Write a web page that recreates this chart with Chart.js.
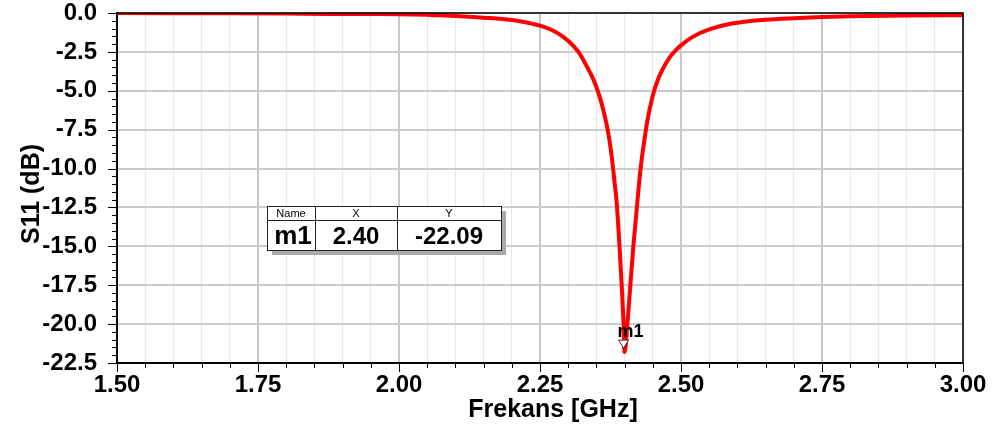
<!DOCTYPE html>
<html><head><meta charset="utf-8">
<script src="https://cdn.jsdelivr.net/npm/chart.js@4.4.1/dist/chart.umd.min.js"></script>
<style>html,body{margin:0;padding:0;background:#fff;}canvas{display:block}</style>
</head><body>
<canvas id="c" width="995" height="428"></canvas>
<script>
// ---- data ----
const freqGHz = [1.50, 1.60, 1.70, 1.80, 1.87, 1.95, 2.00, 2.05, 2.07, 2.10, 2.15, 2.20, 2.225, 2.25, 2.27, 2.29, 2.31, 2.32, 2.333, 2.345, 2.355, 2.362, 2.371, 2.377, 2.382, 2.386, 2.391, 2.395, 2.398, 2.40, 2.4055, 2.41, 2.4155, 2.42, 2.425, 2.43, 2.435, 2.44, 2.45, 2.46, 2.47, 2.48, 2.49, 2.50, 2.52, 2.55, 2.59, 2.65, 2.70, 2.75, 2.80, 2.90, 3.00];
const s11dB   = [0.00, -0.01, -0.02, -0.04, -0.06, -0.07, -0.08, -0.12, -0.15, -0.19, -0.30, -0.45, -0.60, -0.81, -1.08, -1.50, -2.14, -2.60, -3.43, -4.30, -5.30, -6.20, -7.70, -9.20, -10.8, -12.2, -15.0, -17.6, -19.8, -21.8, -19.75, -17.6, -15.0, -13.2, -11.2, -9.5, -8.2, -7.0, -5.3, -4.2, -3.45, -2.85, -2.42, -2.08, -1.55, -1.06, -0.68, -0.43, -0.33, -0.26, -0.21, -0.16, -0.14];
const xTickLabels = ['1.50', '1.75', '2.00', '2.25', '2.50', '2.75', '3.00'];
const yTickLabels = ['0.0', '-2.5', '-5.0', '-7.5', '-10.0', '-12.5', '-15.0', '-17.5', '-20.0', '-22.5'];
const markerName = 'm1';
const markerX = 2.40;
const markerY = -22.09;
const markerCurveY = -21.8;
const xTitle = 'Frekans [GHz]';
const yTitle = 'S11 (dB)';

const isMajorX = v => Math.abs(v / 0.25 - Math.round(v / 0.25)) < 1e-6;
const isMajorY = v => Math.abs(v / 2.5 - Math.round(v / 2.5)) < 1e-6;
const findLabel = (labels, v) => labels.find(l => Math.abs(parseFloat(l) - v) < 1e-6) || '';

const decor = {
  id: 'decor',
  afterDraw(chart) {
    const { ctx, chartArea: a, scales: { x, y } } = chart;
    ctx.save();
    // frame top/right
    ctx.strokeStyle = '#000';
    ctx.lineWidth = 1.5;
    ctx.beginPath();
    ctx.moveTo(a.left, a.top); ctx.lineTo(a.right, a.top); ctx.lineTo(a.right, a.bottom);
    ctx.stroke();
    // tick marks
    ctx.lineWidth = 1;
    ctx.beginPath();
    y.ticks.forEach(t => {
      const py = Math.round(y.getPixelForValue(t.value)) + 0.5;
      const len = isMajorY(t.value) ? 9 : 5;
      ctx.moveTo(a.left - len, py); ctx.lineTo(a.left, py);
    });
    x.ticks.forEach(t => {
      const px = Math.round(x.getPixelForValue(t.value)) + 0.5;
      const len = isMajorX(t.value) ? 9 : 5;
      ctx.moveTo(px, a.bottom); ctx.lineTo(px, a.bottom + len);
    });
    ctx.stroke();
    // axis titles
    ctx.fillStyle = '#000';
    ctx.font = 'bold 25px "Liberation Sans", Arial, sans-serif';
    ctx.textAlign = 'center';
    ctx.textBaseline = 'middle';
    ctx.fillText(xTitle, 553, 410);
    ctx.save();
    ctx.translate(32, 194);
    ctx.rotate(-Math.PI / 2);
    ctx.fillText(yTitle, 0, 0);
    ctx.restore();
    // marker triangle + label
    const mx = x.getPixelForValue(markerX);
    const tip = y.getPixelForValue(markerCurveY) - 4;
    ctx.beginPath();
    ctx.moveTo(mx - 6, tip - 8); ctx.lineTo(mx + 4, tip - 8); ctx.lineTo(mx - 1, tip);
    ctx.closePath();
    ctx.fillStyle = '#fff';
    ctx.fill();
    ctx.strokeStyle = '#333';
    ctx.lineWidth = 1;
    ctx.stroke();
    ctx.fillStyle = '#000';
    ctx.font = 'bold 18px "Liberation Sans", Arial, sans-serif';
    ctx.textAlign = 'left';
    ctx.textBaseline = 'alphabetic';
    ctx.fillText(markerName, mx - 7, tip - 11);
    // marker table
    const L = 267, T = 206, R = 501, B = 250, c1 = 315, c2 = 397, hr = 220;
    ctx.fillStyle = '#a9a9a9';
    ctx.fillRect(L + 5, T + 5, R - L, B - T);
    ctx.fillStyle = '#fff';
    ctx.fillRect(L, T, R - L, B - T);
    ctx.strokeStyle = '#222';
    ctx.lineWidth = 1;
    ctx.strokeRect(L + 0.5, T + 0.5, R - L, B - T);
    ctx.beginPath();
    ctx.moveTo(L, hr + 0.5); ctx.lineTo(R, hr + 0.5);
    ctx.moveTo(c1 + 0.5, T); ctx.lineTo(c1 + 0.5, B);
    ctx.moveTo(c2 + 0.5, T); ctx.lineTo(c2 + 0.5, B);
    ctx.stroke();
    ctx.fillStyle = '#000';
    ctx.textAlign = 'center';
    ctx.textBaseline = 'middle';
    ctx.font = '11px "Liberation Sans", Arial, sans-serif';
    ctx.fillText('Name', (L + c1) / 2, 213.5);
    ctx.fillText('X', (c1 + c2) / 2, 213.5);
    ctx.fillText('Y', (c2 + R) / 2, 213.5);
    ctx.font = 'bold 26px "Liberation Sans", Arial, sans-serif';
    ctx.fillText(markerName, 293, 237);
    ctx.font = 'bold 24px "Liberation Sans", Arial, sans-serif';
    ctx.fillText(markerX.toFixed(2), (c1 + c2) / 2, 237);
    ctx.fillText(markerY.toFixed(2), (c2 + R) / 2, 237);
    ctx.restore();
  }
};

new Chart(document.getElementById('c'), {
  type: 'line',
  data: {
    datasets: [{
      data: freqGHz.map((f, i) => ({ x: f, y: s11dB[i] })),
      borderColor: '#ff0000',
      borderWidth: 4,
      pointRadius: 0,
      cubicInterpolationMode: 'monotone',
      fill: false
    }]
  },
  options: {
    responsive: false,
    animation: false,
    devicePixelRatio: 1,
    layout: { padding: { top: 13, right: 32, left: 0, bottom: 0 } },
    plugins: { legend: { display: false }, tooltip: { enabled: false } },
    scales: {
      x: {
        type: 'linear', min: 1.5, max: 3.0,
        afterFit(s) { s.height = 65; s.paddingLeft = 0; s.paddingRight = 0; },
        ticks: {
          stepSize: 0.05, autoSkip: false, maxRotation: 0, padding: 8,
          color: '#000',
          font: { family: '"Liberation Sans", Arial, sans-serif', size: 24, weight: 'bold' },
          callback: v => isMajorX(v) ? findLabel(xTickLabels, v) : ''
        },
        grid: {
          drawTicks: false,
          color: c => isMajorX(c.tick.value) ? '#c8c8c8' : '#e8e8e8',
          lineWidth: c => isMajorX(c.tick.value) ? 2 : 1
        },
        border: { display: true, color: '#000', width: 2 }
      },
      y: {
        type: 'linear', min: -22.5, max: 0,
        afterFit(s) { s.width = 117; s.paddingTop = 0; s.paddingBottom = 0; },
        ticks: {
          stepSize: 0.5, autoSkip: false, padding: 20,
          color: '#000',
          font: { family: '"Liberation Sans", Arial, sans-serif', size: 24, weight: 'bold' },
          callback: v => isMajorY(v) ? findLabel(yTickLabels, v) : ''
        },
        grid: {
          drawTicks: false,
          color: c => isMajorY(c.tick.value) ? '#cccccc' : 'rgba(0,0,0,0)',
          lineWidth: c => isMajorY(c.tick.value) ? 2 : 1
        },
        border: { display: true, color: '#000', width: 2 }
      }
    }
  },
  plugins: [decor]
});
</script>
</body></html>
